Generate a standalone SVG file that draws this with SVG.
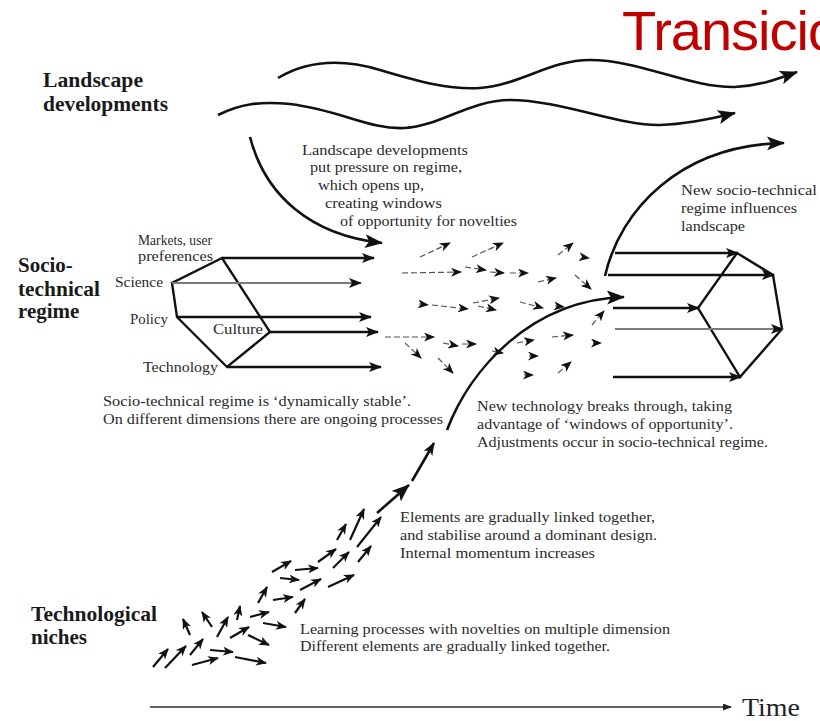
<svg xmlns="http://www.w3.org/2000/svg" width="820" height="721" viewBox="0 0 820 721">
<style>
.lbl{font-family:"Liberation Serif","Times New Roman",serif;font-weight:bold;font-size:21px;fill:#1a1a1a}
.txt{font-family:"Liberation Serif","Times New Roman",serif;font-size:14px;fill:#2a2a2a}
.ttl{font-family:"Liberation Sans",Arial,sans-serif;font-size:56px;fill:#C00000;letter-spacing:-1px}
.thick{fill:none;stroke:#111;stroke-width:2.6}
.gray{fill:none;stroke:#7a7a7a;stroke-width:2.2}
.dash{fill:none;stroke:#555;stroke-width:1.2;stroke-dasharray:6 3}
.nich{fill:none;stroke:#111;stroke-width:2.2}
.reg{fill:none;stroke:#111;stroke-width:2.4}
</style>
<defs>
<marker id="ahBig" markerWidth="19" markerHeight="14" refX="17" refY="7" orient="auto" markerUnits="userSpaceOnUse"><path d="M0,0 L18,7 L0,14 L4,7 z" fill="#111"/></marker>
<marker id="ahMed" markerWidth="14" markerHeight="10" refX="12" refY="5" orient="auto" markerUnits="userSpaceOnUse"><path d="M0,0 L13,5 L0,10 L3,5 z" fill="#111"/></marker>
<marker id="ahSm" markerWidth="11" markerHeight="9" refX="10" refY="4.5" orient="auto" markerUnits="userSpaceOnUse"><path d="M0,0 L11,4.5 L0,9 L3,4.5 z" fill="#111"/></marker>
<marker id="ahTime" markerWidth="9" markerHeight="7" refX="8" refY="3.5" orient="auto" markerUnits="userSpaceOnUse"><path d="M0,0 L9,3.5 L0,7 z" fill="#222"/></marker>
</defs>
<rect width="820" height="721" fill="#fff"/>

<g id="title"><text class="ttl" x="622" y="50">Transición</text></g>

<g id="landscape">
<text class="lbl" x="43" y="87" textLength="100" lengthAdjust="spacingAndGlyphs">Landscape</text>
<text class="lbl" x="43" y="111" textLength="125" lengthAdjust="spacingAndGlyphs">developments</text>
</g>
<g id="regime">
<text class="lbl" x="18" y="272">Socio-</text>
<text class="lbl" x="18" y="296" textLength="82" lengthAdjust="spacingAndGlyphs">technical</text>
<text class="lbl" x="18" y="318">regime</text>
</g>
<g id="niches">
<text class="lbl" x="31" y="621" textLength="126" lengthAdjust="spacingAndGlyphs">Technological</text>
<text class="lbl" x="31" y="644">niches</text>
</g>

<g id="regime-dimensions">
<text class="txt" x="138" y="245" textLength="74" lengthAdjust="spacingAndGlyphs">Markets, user</text>
<text class="txt" x="138" y="261" textLength="75" lengthAdjust="spacingAndGlyphs">preferences</text>
<text class="txt" x="115" y="287" textLength="48" lengthAdjust="spacingAndGlyphs">Science</text>
<text class="txt" x="130" y="324" textLength="38" lengthAdjust="spacingAndGlyphs">Policy</text>
<text class="txt" x="213" y="334" textLength="50" lengthAdjust="spacingAndGlyphs">Culture</text>
<text class="txt" x="143" y="372" textLength="75" lengthAdjust="spacingAndGlyphs">Technology</text>
</g>

<g id="note-regime">
<text class="txt" x="103" y="406" textLength="308" lengthAdjust="spacingAndGlyphs">Socio-technical regime  is ‘dynamically stable’.</text>
<text class="txt" x="103" y="424" textLength="340" lengthAdjust="spacingAndGlyphs">On different dimensions there are ongoing processes</text>
</g>
<g id="note-landscape">
<text class="txt" x="302" y="155" textLength="166" lengthAdjust="spacingAndGlyphs">Landscape  developments</text>
<text class="txt" x="310" y="172" textLength="152" lengthAdjust="spacingAndGlyphs">put pressure on regime,</text>
<text class="txt" x="318" y="190" textLength="106" lengthAdjust="spacingAndGlyphs">which opens up,</text>
<text class="txt" x="325" y="208" textLength="117" lengthAdjust="spacingAndGlyphs">creating windows</text>
<text class="txt" x="340" y="226" textLength="177" lengthAdjust="spacingAndGlyphs">of opportunity for novelties</text>
</g>
<g id="note-new-regime">
<text class="txt" x="681" y="195" textLength="136" lengthAdjust="spacingAndGlyphs">New  socio-technical</text>
<text class="txt" x="681" y="213" textLength="116" lengthAdjust="spacingAndGlyphs">regime influences</text>
<text class="txt" x="681" y="231" textLength="64" lengthAdjust="spacingAndGlyphs">landscape</text>
</g>
<g id="note-breakthrough">
<text class="txt" x="477" y="411" textLength="255" lengthAdjust="spacingAndGlyphs">New technology breaks through, taking</text>
<text class="txt" x="477" y="429" textLength="256" lengthAdjust="spacingAndGlyphs">advantage of ‘windows of opportunity’.</text>
<text class="txt" x="477" y="447" textLength="291" lengthAdjust="spacingAndGlyphs">Adjustments occur in socio-technical regime.</text>
</g>
<g id="note-elements">
<text class="txt" x="400" y="522" textLength="255" lengthAdjust="spacingAndGlyphs">Elements are gradually linked together,</text>
<text class="txt" x="400" y="540" textLength="257" lengthAdjust="spacingAndGlyphs">and stabilise around a dominant design.</text>
<text class="txt" x="400" y="558" textLength="195" lengthAdjust="spacingAndGlyphs">Internal momentum  increases</text>
</g>
<g id="note-learning">
<text class="txt" x="300" y="634" textLength="370" lengthAdjust="spacingAndGlyphs">Learning processes with novelties on multiple dimension</text>
<text class="txt" x="300" y="651" textLength="310" lengthAdjust="spacingAndGlyphs">Different elements are gradually linked together.</text>
</g>
<g id="time">
<text x="742" y="716" font-family="Liberation Serif, Times New Roman, serif" font-size="25" fill="#222" textLength="58" lengthAdjust="spacingAndGlyphs">Time</text>
</g>

<g id="connectors">
<!-- landscape waves -->
<path class="thick" marker-end="url(#ahBig)" d="M278,78 C305,62 340,58 380,70 C420,82 450,90 480,88 C520,85 550,60 590,60 C640,60 690,88 735,87 C760,86 780,78 797,72"/>
<path class="thick" marker-end="url(#ahBig)" d="M218,115 C240,104 260,101 290,104 C340,110 370,130 405,128 C440,126 470,100 510,100 C560,100 620,126 660,125 C690,124 715,118 735,113"/>
<path class="thick" marker-end="url(#ahBig)" d="M250,137 C265,195 310,235 382,243"/>
<path class="thick" marker-end="url(#ahBig)" d="M605,276 C620,210 680,145 784,143"/>
<!-- regime left -->
<path class="reg" d="M222,258 L172,283 L177,317 L227,367 L270,332 Z"/>
<path class="reg" marker-end="url(#ahMed)" d="M222,258 L374,258"/>
<path class="gray" marker-end="url(#ahMed)" d="M172,283 L361,283"/>
<path class="reg" marker-end="url(#ahMed)" d="M177,317 L371,317"/>
<path class="reg" marker-end="url(#ahMed)" d="M270,332 L378,332"/>
<path class="reg" marker-end="url(#ahMed)" d="M227,367 L381,367"/>
<!-- regime right -->
<path class="reg" d="M737,253 L773,275 L782,329 L740,377 L698,308 Z"/>
<path class="reg" marker-end="url(#ahMed)" d="M615,253 L738,253"/>
<path class="reg" marker-end="url(#ahMed)" d="M608,275 L774,275"/>
<path class="reg" marker-end="url(#ahMed)" d="M613,308 L699,308"/>
<path class="gray" marker-end="url(#ahMed)" d="M615,329 L783,329"/>
<path class="reg" marker-end="url(#ahMed)" d="M613,377 L741,377"/>
<!-- breakthrough path -->
<path class="thick" marker-end="url(#ahBig)" d="M447,430 C470,370 530,300 624,297"/>
<path class="thick" marker-end="url(#ahMed)" d="M412,481 L434,443"/>
<path class="thick" marker-end="url(#ahBig)" d="M377,513 L409,485"/>
<!-- scattered novelties -->
<path class="dash" marker-end="url(#ahSm)" d="M420,257 L450,243"/>
<path class="dash" marker-end="url(#ahSm)" d="M472,257 L503,243"/>
<path class="dash" marker-end="url(#ahSm)" d="M558,255 L573,243"/>
<path class="dash" marker-end="url(#ahSm)" d="M582,257 L589,258"/>
<path class="dash" marker-end="url(#ahSm)" d="M402,273 L461,272"/>
<path class="dash" marker-end="url(#ahSm)" d="M465,267 L486,270"/>
<path class="dash" marker-end="url(#ahSm)" d="M490,272 L504,273"/>
<path class="dash" marker-end="url(#ahSm)" d="M510,273 L528,273"/>
<path class="dash" marker-end="url(#ahSm)" d="M538,282 L556,278"/>
<path class="dash" marker-end="url(#ahSm)" d="M575,275 L591,289"/>
<path class="dash" marker-end="url(#ahSm)" d="M419,304 L428,305"/>
<path class="dash" marker-end="url(#ahSm)" d="M432,305 L468,309"/>
<path class="dash" marker-end="url(#ahSm)" d="M473,303 L499,298"/>
<path class="dash" marker-end="url(#ahSm)" d="M478,306 L496,310"/>
<path class="dash" marker-end="url(#ahSm)" d="M520,302 L543,308"/>
<path class="dash" marker-end="url(#ahSm)" d="M555,306 L564,307"/>
<path class="dash" marker-end="url(#ahSm)" d="M592,325 L604,311"/>
<path class="dash" marker-end="url(#ahSm)" d="M385,337 L434,337"/>
<path class="dash" marker-end="url(#ahSm)" d="M405,343 L421,358"/>
<path class="dash" marker-end="url(#ahSm)" d="M443,343 L458,346"/>
<path class="dash" marker-end="url(#ahSm)" d="M462,344 L476,344"/>
<path class="dash" marker-end="url(#ahSm)" d="M492,351 L503,353"/>
<path class="dash" marker-end="url(#ahSm)" d="M517,343 L534,340"/>
<path class="dash" marker-end="url(#ahSm)" d="M552,337 L573,335"/>
<path class="dash" marker-end="url(#ahSm)" d="M593,343 L601,343"/>
<path class="dash" marker-end="url(#ahSm)" d="M438,358 L453,373"/>
<path class="dash" marker-end="url(#ahSm)" d="M529,356 L538,356"/>
<path class="dash" marker-end="url(#ahSm)" d="M524,375 L533,375"/>
<path class="dash" marker-end="url(#ahSm)" d="M558,373 L571,362"/>
<!-- niche arrows -->
<path class="nich" marker-end="url(#ahSm)" d="M153,667 L168,649"/>
<path class="nich" marker-end="url(#ahSm)" d="M165,668 L186,646"/>
<path class="nich" marker-end="url(#ahSm)" d="M190,655 L203,639"/>
<path class="nich" marker-end="url(#ahSm)" d="M192,665 L218,658"/>
<path class="nich" marker-end="url(#ahSm)" d="M210,650 L233,652"/>
<path class="nich" marker-end="url(#ahSm)" d="M235,657 L266,663"/>
<path class="nich" marker-end="url(#ahSm)" d="M190,635 L183,619"/>
<path class="nich" marker-end="url(#ahSm)" d="M212,627 L202,612"/>
<path class="nich" marker-end="url(#ahSm)" d="M217,637 L228,617"/>
<path class="nich" marker-end="url(#ahSm)" d="M230,638 L249,627"/>
<path class="nich" marker-end="url(#ahSm)" d="M248,635 L269,645"/>
<path class="nich" marker-end="url(#ahSm)" d="M237,620 L240,606"/>
<path class="nich" marker-end="url(#ahSm)" d="M250,617 L269,612"/>
<path class="nich" marker-end="url(#ahSm)" d="M263,623 L286,627"/>
<path class="nich" marker-end="url(#ahSm)" d="M258,603 L267,587"/>
<path class="nich" marker-end="url(#ahSm)" d="M273,600 L293,597"/>
<path class="nich" marker-end="url(#ahSm)" d="M295,613 L305,599"/>
<path class="nich" marker-end="url(#ahSm)" d="M272,572 L291,561"/>
<path class="nich" marker-end="url(#ahSm)" d="M280,578 L299,580"/>
<path class="nich" marker-end="url(#ahSm)" d="M295,570 L318,568"/>
<path class="nich" marker-end="url(#ahSm)" d="M300,590 L321,579"/>
<path class="nich" marker-end="url(#ahSm)" d="M328,587 L354,575"/>
<path class="nich" marker-end="url(#ahSm)" d="M318,562 L336,549"/>
<path class="nich" marker-end="url(#ahSm)" d="M333,568 L349,552"/>
<path class="nich" marker-end="url(#ahSm)" d="M337,540 L346,524"/>
<path class="nich" marker-end="url(#ahSm)" d="M350,540 L364,509"/>
<path class="nich" marker-end="url(#ahSm)" d="M357,547 L381,517"/>
<path class="nich" marker-end="url(#ahSm)" d="M358,562 L371,546"/>
<!-- time axis -->
<path fill="none" stroke="#333" stroke-width="1.6" marker-end="url(#ahTime)" d="M150,707 L731,707"/>
</g>
</svg>
